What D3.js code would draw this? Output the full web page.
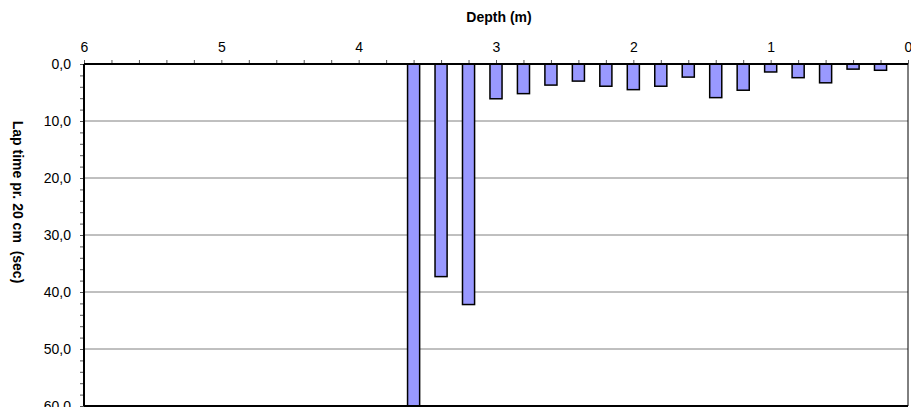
<!DOCTYPE html>
<html>
<head>
<meta charset="utf-8">
<script src="https://cdn.jsdelivr.net/npm/d3@7"></script>
<style>
  html, body { margin: 0; padding: 0; background: #fff; }
  svg { display: block; font-family: "Liberation Sans", Arial, sans-serif; }
  .title { white-space: pre; }
</style>
</head>
<body>
<svg id="chart" width="911" height="407"></svg>
<script>
// Lap time for each 20 cm interval, indexed by depth (m)
const depths   = [3.6, 3.4, 3.2, 3.0, 2.8, 2.6, 2.4, 2.2, 2.0, 1.8, 1.6, 1.4, 1.2, 1.0, 0.8, 0.6, 0.4, 0.2];
const lapTimes = [66.0, 37.3, 42.2, 6.1, 5.2, 3.7, 3.0, 3.9, 4.5, 3.9, 2.3, 5.9, 4.6, 1.4, 2.4, 3.3, 0.9, 1.1];
const xTicks   = [6, 5, 4, 3, 2, 1, 0];
const yTicks   = [0, 10, 20, 30, 40, 50, 60];
const xTitle   = "Depth (m)";
const yTitle   = "Lap time pr. 20 cm  (sec)";

const svg = d3.select("#chart");
const plotL = 84, plotR = 908, plotT = 64, plotB = 406;

const x = d3.scaleLinear().domain([6, 0]).range([plotL, plotR]);
const y = d3.scaleLinear().domain([0, 60]).range([plotT, plotB]);
const fmt = v => d3.format(".1f")(v).replace(".", ",");

// horizontal grid lines
svg.append("g")
  .selectAll("line")
  .data(yTicks.filter(v => v > 0 && v < 60))
  .join("line")
  .attr("x1", plotL).attr("x2", plotR)
  .attr("y1", d => y(d)).attr("y2", d => y(d))
  .attr("stroke", "#808080").attr("stroke-width", 1);

// bars, clipped to the plot area
svg.append("clipPath").attr("id", "plot")
  .append("rect").attr("x", plotL).attr("y", plotT)
  .attr("width", plotR - plotL).attr("height", plotB - plotT);

const barW = x(0) - x(0.088);
svg.append("g").attr("clip-path", "url(#plot)")
  .selectAll("rect")
  .data(depths.map((d, i) => ({ d, v: lapTimes[i] })))
  .join("rect")
  .attr("x", p => x(p.d) - barW / 2)
  .attr("y", y(0))
  .attr("width", barW)
  .attr("height", p => y(p.v) - y(0))
  .attr("fill", "#9999FF")
  .attr("stroke", "#000")
  .attr("stroke-width", 1.5);

// top axis: minor ticks every 0.2 m, labels at whole metres
const xAxis = d3.axisTop(x)
  .tickValues(d3.range(0, 61, 2).map(v => v / 10))
  .tickSize(4)
  .tickFormat(v => xTicks.includes(v) ? d3.format("d")(v) : "");
const gx = svg.append("g").attr("transform", `translate(0,${plotT})`).call(xAxis);
gx.select(".domain").remove();
gx.selectAll(".tick line").attr("stroke", "#555");
gx.selectAll(".tick text")
  .attr("font-size", 14).attr("fill", "#000")
  .attr("font-family", "Liberation Sans, Arial, sans-serif")
  .attr("dy", "-5");

// left axis: minor ticks every 2 s, labels every 10 s
const yAxis = d3.axisLeft(y)
  .tickValues(d3.range(0, 61, 2))
  .tickSize(4)
  .tickFormat(v => yTicks.includes(v) ? fmt(v) : "");
const gy = svg.append("g").attr("transform", `translate(${plotL},0)`).call(yAxis);
gy.select(".domain").remove();
gy.selectAll(".tick line").attr("stroke", "#555");
gy.selectAll(".tick text")
  .attr("font-size", 14).attr("fill", "#000")
  .attr("font-family", "Liberation Sans, Arial, sans-serif")
  .attr("x", -13);

// plot frame
svg.append("line").attr("x1", plotL).attr("x2", plotR).attr("y1", plotT).attr("y2", plotT)
  .attr("stroke", "#000").attr("stroke-width", 2);
svg.append("line").attr("x1", plotL).attr("x2", plotL).attr("y1", plotT).attr("y2", plotB)
  .attr("stroke", "#000").attr("stroke-width", 2);
svg.append("line").attr("x1", plotR).attr("x2", plotR).attr("y1", plotT).attr("y2", plotB)
  .attr("stroke", "#000").attr("stroke-width", 1);
svg.append("line").attr("x1", plotL).attr("x2", plotR).attr("y1", plotB).attr("y2", plotB)
  .attr("stroke", "#000").attr("stroke-width", 2);

// axis titles
svg.append("text")
  .attr("class", "title")
  .attr("x", 499).attr("y", 22)
  .attr("text-anchor", "middle")
  .attr("font-size", 14).attr("font-weight", "bold")
  .text(xTitle);

svg.append("text")
  .attr("class", "title")
  .attr("transform", `translate(18,202) rotate(90)`)
  .attr("text-anchor", "middle")
  .attr("dominant-baseline", "central")
  .attr("font-size", 14).attr("font-weight", "bold")
  .text(yTitle);
</script>
</body>
</html>
